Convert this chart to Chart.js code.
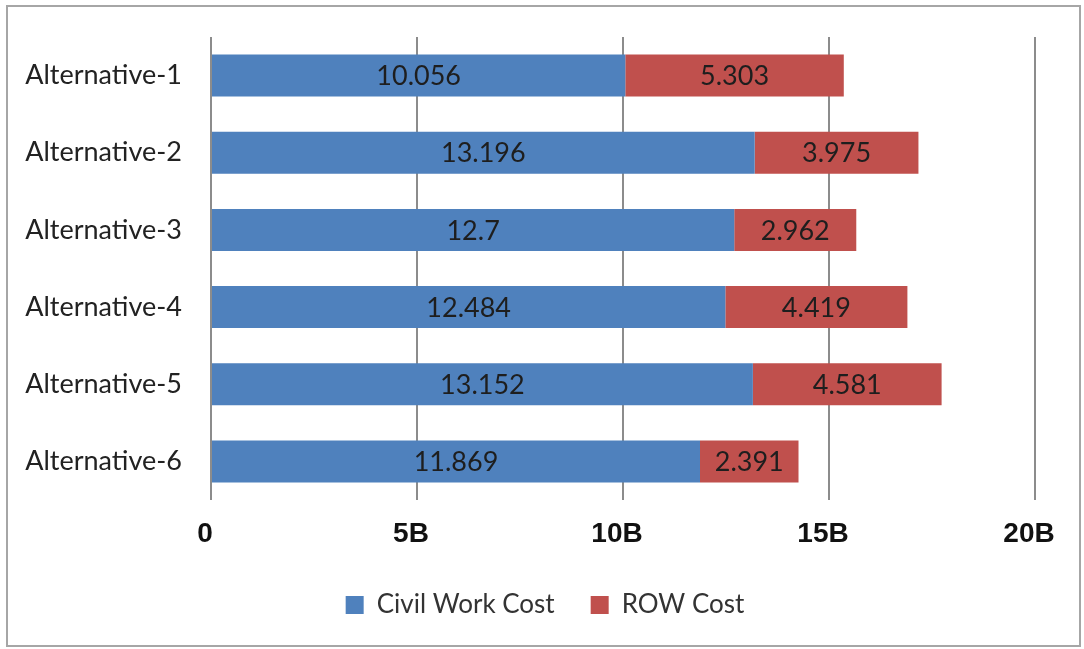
<!DOCTYPE html>
<html>
<head>
<meta charset="utf-8">
<script src="https://cdn.jsdelivr.net/npm/chart.js@4.4.1/dist/chart.umd.min.js"></script>
<style>
  html, body { margin: 0; padding: 0; background: #fff; }
  #frame { position: absolute; left: 6px; top: 5px; width: 1071px; height: 638px; border: 2px solid #a6a6a6; }
  #chart { position: absolute; left: 0; top: 0; }
</style>
</head>
<body>
<div id="frame"></div>
<canvas id="chart" width="1084" height="649"></canvas>
<script>
const categories = ['Alternative-1', 'Alternative-2', 'Alternative-3', 'Alternative-4', 'Alternative-5', 'Alternative-6'];
const civilWorkCost = [10.056, 13.196, 12.7, 12.484, 13.152, 11.869];
const rowCost = [5.303, 3.975, 2.962, 4.419, 4.581, 2.391];
const tickLabels = { 0: '0', 5: '5B', 10: '10B', 15: '15B', 20: '20B' };

// values written in the middle of each bar piece
const barLabels = {
  id: 'barLabels',
  afterDatasetsDraw(chart) {
    const ctx = chart.ctx;
    ctx.save();
    ctx.font = '27px Lato';
    ctx.fillStyle = '#1e1e1e';
    ctx.textAlign = 'center';
    ctx.textBaseline = 'middle';
    chart.data.datasets.forEach((ds, i) => {
      chart.getDatasetMeta(i).data.forEach((bar, j) => {
        const p = bar.getCenterPoint();
        ctx.fillText(String(ds.data[j]), p.x, p.y + 1);
      });
    });
    ctx.restore();
  }
};

// legend in the original sits a bit right of the canvas centre
const legendShift = {
  id: 'legendShift',
  afterLayout(chart) {
    chart.legend.left = 55;
  }
};

new Chart(document.getElementById('chart'), {
  type: 'bar',
  data: {
    labels: categories,
    datasets: [
      { label: 'Civil Work Cost', data: civilWorkCost, backgroundColor: '#4f81bd' },
      { label: 'ROW Cost', data: rowCost, backgroundColor: '#c0504d' },
    ],
  },
  options: {
    indexAxis: 'y',
    responsive: false,
    animation: false,
    layout: { padding: { left: 0, right: 49, top: 37, bottom: 21 } },
    datasets: { bar: { categoryPercentage: 1, barPercentage: 0.545 } },
    scales: {
      x: {
        stacked: true,
        min: 0,
        max: 20,
        ticks: {
          stepSize: 5,
          padding: 17,
          labelOffset: -6,
          color: '#111',
          font: { family: 'Liberation Sans', size: 28, weight: 'bold' },
          callback: (v) => tickLabels[v],
        },
        grid: { color: '#8c8c8c', lineWidth: 2, drawTicks: false },
        border: { display: false },
        afterFit: (scale) => { scale.height = 56; },
      },
      y: {
        stacked: true,
        ticks: { padding: 29, color: '#222', font: { family: 'Lato', size: 27 } },
        grid: { display: false, drawTicks: false },
        border: { display: false },
        afterFit: (scale) => {
          scale.width = 211;
          scale.paddingTop = 0;
          scale.paddingBottom = 0;
        },
      },
    },
    plugins: {
      legend: {
        position: 'bottom',
        labels: {
          boxWidth: 18,
          boxHeight: 18,
          padding: 36,
          color: '#333',
          font: { family: 'Lato', size: 26 },
        },
      },
      tooltip: { enabled: false },
    },
  },
  plugins: [barLabels, legendShift],
});
</script>
</body>
</html>
